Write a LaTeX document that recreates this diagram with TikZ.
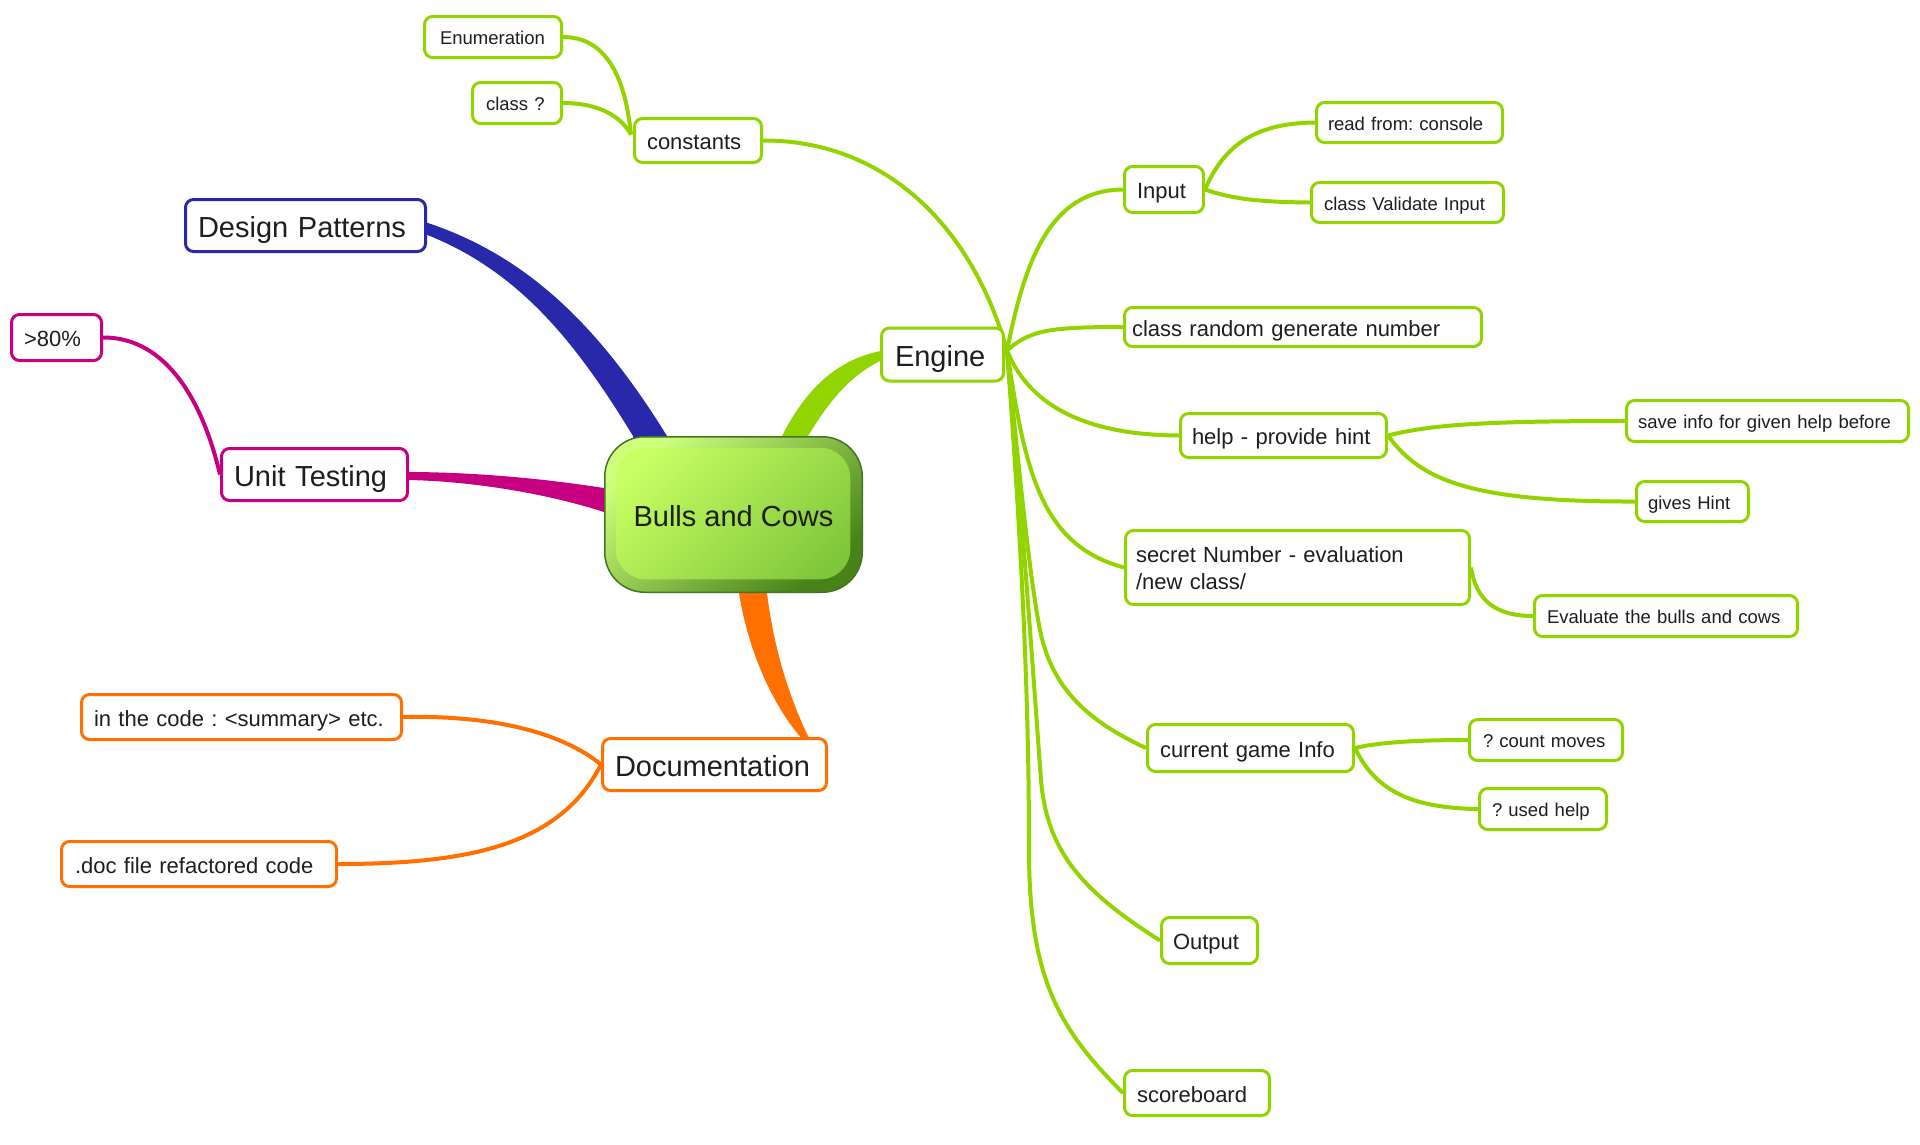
\documentclass[tikz,border=0pt]{standalone}
\usepackage{fontspec}
\setmainfont{Liberation Sans}
\frenchspacing
\definecolor{gr}{RGB}{145,212,0}
\definecolor{bl}{RGB}{40,40,170}
\definecolor{mg}{RGB}{198,0,128}
\definecolor{org}{RGB}{255,112,0}
\definecolor{txt}{RGB}{30,30,30}
\definecolor{cgA}{RGB}{205,255,125}
\definecolor{cgB}{RGB}{72,130,24}
\definecolor{cgC}{RGB}{200,255,100}
\definecolor{cgD}{RGB}{128,198,58}
\definecolor{cgE}{RGB}{70,115,35}
\pgfdeclarelayer{bg}
\pgfsetlayers{bg,main}
\tikzset{
  tbox/.style={draw=#1, line width=3pt, rounded corners=8pt, fill=white, text=txt, align=left, inner xsep=12.5pt, inner ysep=0pt},
  fbig/.style={font=\fontsize{29}{34}\selectfont, text height=24.4pt, text depth=0pt},
  fmid/.style={font=\fontsize{22}{27}\selectfont, text height=18.5pt, text depth=0pt},
  fsml/.style={font=\fontsize{18.5}{22}\selectfont, text height=15.5pt, text depth=0pt},
  lnk/.style={draw=#1, line width=4pt},
}
\begin{document}
\begin{tikzpicture}[x=1pt,y=-1pt]
\useasboundingbox (0,0) rectangle (1920,1144);

% central node
\node[draw=cgE, line width=1.5pt, rounded corners=40pt, minimum width=257.5pt, minimum height=155.5pt,
  top color=cgA, bottom color=cgB, shading angle=40,
  path picture={\shade[rounded corners=30pt, top color=cgC, bottom color=cgD, shading angle=45]
    ([shift={(11pt,-11pt)}]path picture bounding box.north west) rectangle
    ([shift={(-12pt,13pt)}]path picture bounding box.south east);},
  fbig, text=txt] (c) at (733.5,514.5) {Bulls and Cows};

% engine branch
\node[tbox=gr, fbig, inner xsep=13.5pt, text width=95pt, minimum height=53pt] (engine) at (942.5,354.5) {Engine};
\node[tbox=gr, fmid, text width=102pt, minimum height=44pt] (constants) at (698,140.5) {constants};
\node[tbox=gr, fsml, inner xsep=15.5pt, text width=106pt, minimum height=41pt] (enum) at (493,37) {Enumeration};
\node[tbox=gr, fsml, inner xsep=13.5pt, text width=62pt, minimum height=41pt] (classq) at (517,103) {class ?};
\node[tbox=gr, fmid, text width=54pt, minimum height=46pt] (input) at (1164,189.5) {Input};
\node[tbox=gr, fsml, inner xsep=11.5pt, text width=163pt, minimum height=40pt] (readc) at (1409.5,122.5) {read from: console};
\node[tbox=gr, fsml, text width=167pt, minimum height=40pt] (valid) at (1407.5,202.5) {class Validate Input};
\node[tbox=gr, fmid, inner xsep=7.5pt, text width=342pt, minimum height=39pt] (random) at (1303,327) {class random generate number};
\node[tbox=gr, fmid, inner xsep=11.5pt, text width=183pt, minimum height=44pt] (help) at (1283.5,435.5) {help - provide hint};
\node[tbox=gr, fsml, inner xsep=11.5pt, text width=259pt, minimum height=41pt] (save) at (1767.5,421) {save info for given help before};
\node[tbox=gr, fsml, inner xsep=11.5pt, text width=89pt, minimum height=40pt] (gives) at (1692.5,501.5) {gives Hint};
\node[tbox=gr, fmid, text height=18.5pt, text depth=29.5pt, inner xsep=10.5pt, text width=323pt, minimum height=74pt] (secret) at (1297.5,567.5) {secret Number - evaluation\\/new class/};
\node[tbox=gr, fsml, text width=238pt, minimum height=41pt] (eval) at (1666,616) {Evaluate the bulls and cows};
\node[tbox=gr, fmid, text width=181pt, minimum height=47pt] (cgi) at (1250.5,748) {current game Info};
\node[tbox=gr, fsml, inner xsep=13.5pt, text width=126pt, minimum height=41pt] (countm) at (1546,740) {? count moves};
\node[tbox=gr, fsml, text width=102pt, minimum height=41pt] (usedh) at (1543,809) {? used help};
\node[tbox=gr, fmid, inner xsep=11.5pt, text width=73pt, minimum height=46pt] (output) at (1209.5,940.5) {Output};
\node[tbox=gr, fmid, text width=120pt, minimum height=45pt] (score) at (1197,1093) {scoreboard};

% other branches
\node[tbox=bl, fbig, text width=215pt, minimum height=52pt] (dp) at (305.5,225.5) {Design Patterns};
\node[tbox=mg, fmid, text width=65pt, minimum height=46pt] (p80) at (56.5,337.5) {>80\%};
\node[tbox=mg, fbig, text width=161pt, minimum height=52pt] (ut) at (314.5,474.5) {Unit Testing};
\node[tbox=org, fbig, text width=199pt, minimum height=52pt] (docu) at (714.5,764.5) {Documentation};
\node[tbox=org, fmid, text width=295pt, minimum height=45pt] (incode) at (241.5,717) {in the code : <summary> etc.};
\node[tbox=org, fmid, inner xsep=13.5pt, text width=248pt, minimum height=45pt] (docfile) at (199,864) {.doc file refactored code};

\coordinate (eR) at ([shift={(2,-4)}]engine.east);

\begin{pgfonlayer}{bg}
% tapered main branches
\fill[gr] ([shift={(48.5,15)}]c.north) -- ([shift={(48.5,0)}]c.north)
  .. controls (803,395) and (832,360) .. ([shift={(3,-4)}]engine.west)
  -- ([shift={(3,5)}]engine.west)
  .. controls (848,376) and (827,405) .. ([shift={(74.5,0)}]c.north)
  -- ([shift={(74.5,15)}]c.north) -- cycle;
\fill[bl] ([shift={(-2,-3.5)}]dp.east) .. controls (523,254) and (596,321) .. ([shift={(-66.5,0)}]c.north)
  -- ([shift={(-66.5,15)}]c.north) -- ([shift={(-100.5,15)}]c.north) -- ([shift={(-100.5,0)}]c.north)
  .. controls (574,339) and (517,270) .. ([shift={(-2,8.5)}]dp.east) -- cycle;
\fill[mg] ([shift={(-2,-2.5)}]ut.east) .. controls (470,472) and (540,478) .. ([shift={(0,-26.5)}]c.west)
  -- ([shift={(15,-26.5)}]c.west) -- ([shift={(15,-2.5)}]c.west) -- ([shift={(0,-2.5)}]c.west)
  .. controls (545,493) and (470,481) .. ([shift={(-2,5.5)}]ut.east) -- cycle;
\fill[org] ([shift={(5.5,-15)}]c.south) -- ([shift={(5.5,0)}]c.south)
  .. controls (748,650) and (772,705) .. ([shift={(88.5,3)}]docu.north)
  -- ([shift={(95.5,3)}]docu.north)
  .. controls (790,700) and (774,650) .. ([shift={(33.5,0)}]c.south)
  -- ([shift={(33.5,-15)}]c.south) -- cycle;

% engine children
\draw[lnk=gr] (constants.east) .. controls (880,140) and (970,220) .. (eR);
\draw[lnk=gr] (eR) .. controls (1025,260) and (1050,190) .. (input.west);
\draw[lnk=gr] (eR) .. controls (1030,330) and (1050,327) .. (random.west);
\draw[lnk=gr] (eR) .. controls (1025,395) and (1070,435) .. (help.west);
\draw[lnk=gr] (eR) .. controls (1025,470) and (1040,545) .. (secret.west);
\draw[lnk=gr] (eR) .. controls (1020,480) and (1030,580) .. (1040,630) .. controls (1052,690) and (1090,722) .. (cgi.west);
\draw[lnk=gr] (eR) .. controls (1025,550) and (1035,700) .. (1041,780) .. controls (1047,850) and (1080,890) .. (output.west);
\draw[lnk=gr] (eR) .. controls (1022,550) and (1029,700) .. (1029,850) .. controls (1029,980) and (1060,1030) .. (score.west);

% constants children
\draw[lnk=gr] (enum.east) .. controls (605,37) and (625,75) .. ([shift={(-2,-6)}]constants.west);
\draw[lnk=gr] (classq.east) .. controls (597,103) and (620,115) .. ([shift={(-2,-6)}]constants.west);

% input children
\draw[lnk=gr] (input.east) .. controls (1222,150) and (1250,123) .. (readc.west);
\draw[lnk=gr] (input.east) .. controls (1235,200) and (1265,202) .. (valid.west);

% help children
\draw[lnk=gr] (help.east) .. controls (1430,425) and (1480,421) .. (save.west);
\draw[lnk=gr] (help.east) .. controls (1420,480) and (1470,502) .. (gives.west);

% secret child
\draw[lnk=gr] (secret.east) .. controls (1476,600) and (1495,616) .. (eval.west);

% current game info children
\draw[lnk=gr] (cgi.east) .. controls (1380,742) and (1420,740) .. (countm.west);
\draw[lnk=gr] (cgi.east) .. controls (1375,790) and (1410,808) .. (usedh.west);

% unit testing child
\draw[lnk=mg] (p80.east) .. controls (160,337) and (200,390) .. (ut.west);

% documentation children
\draw[lnk=org] (incode.east) .. controls (500,715) and (565,735) .. (docu.west);
\draw[lnk=org] (docfile.east) .. controls (470,864) and (560,845) .. (docu.west);
\end{pgfonlayer}
\end{tikzpicture}
\end{document}
